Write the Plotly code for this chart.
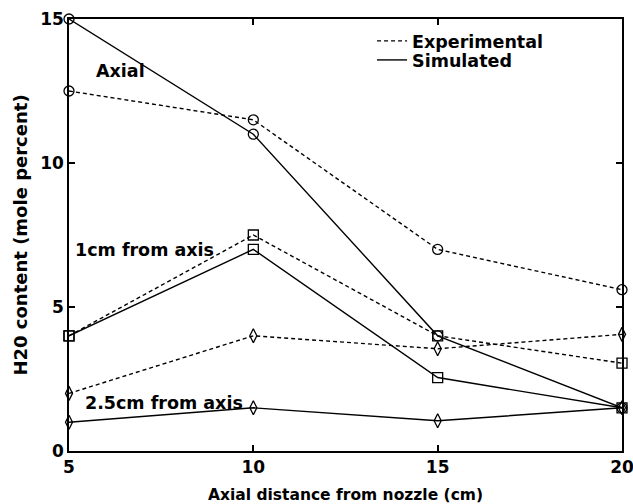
import plotly.graph_objects as go

# Axial positions (cm) and H2O content (mole percent)
distance = [5, 10, 15, 20]

axial_exp = [12.5, 11.5, 7.0, 5.6]
axial_sim = [15.0, 11.0, 4.0, 1.5]
r1cm_exp = [4.0, 7.5, 4.0, 3.05]
r1cm_sim = [4.0, 7.0, 2.55, 1.5]
r25cm_exp = [2.0, 4.0, 3.55, 4.05]
r25cm_sim = [1.0, 1.5, 1.05, 1.5]

x_ticks = [5, 10, 15, 20]
y_ticks = [0, 5, 10, 15]

FONT = "DejaVu Sans"
DASH = "4px,3px"

series = [
    (axial_exp, "circle-open", DASH),
    (axial_sim, "circle-open", "solid"),
    (r1cm_exp, "square-open", DASH),
    (r1cm_sim, "square-open", "solid"),
    (r25cm_exp, "diamond-tall-open", DASH),
    (r25cm_sim, "diamond-tall-open", "solid"),
]

fig = go.Figure()
for values, symbol, dash in series:
    fig.add_trace(go.Scatter(
        x=distance, y=values, mode="lines+markers",
        line=dict(color="black", width=1.4, dash=dash),
        marker=dict(symbol=symbol, size=10, color="black",
                    line=dict(width=1.3, color="black")),
        showlegend=False, cliponaxis=False,
    ))

# Legend entries (line style only), one legend box per row
for name, dash, leg in [("Experimental", DASH, "legend"), ("Simulated", "solid", "legend2")]:
    fig.add_trace(go.Scatter(
        x=[None], y=[None], mode="lines", name=f"<b>{name}</b>",
        line=dict(color="black", width=1.4, dash=dash), legend=leg,
    ))

labels = [
    ("Axial", 5.69, 13.2),
    ("1cm from axis", 5.1, 6.98),
    ("2.5cm from axis", 5.37, 1.67),
]
for text, lx, ly in labels:
    fig.add_annotation(x=lx, y=ly, text=f"<b>{text}</b>", showarrow=False,
                       xanchor="left", yanchor="middle",
                       font=dict(family=FONT, size=17.5, color="black"))

axis_common = dict(
    showline=True, linecolor="black", linewidth=1.5, mirror="ticks",
    ticks="inside", ticklen=6, tickwidth=1.5, tickcolor="black",
    showgrid=False, zeroline=False, automargin=False,
    ticklabeloverflow="allow",
    tickfont=dict(family=FONT, size=17, color="black"),
)

legend_common = dict(
    xanchor="left", yanchor="middle", bgcolor="rgba(0,0,0,0)",
    font=dict(family=FONT, size=17.5, color="black"),
)

fig.update_layout(
    width=633, height=504,
    margin=dict(l=69, r=11, t=19, b=53),
    paper_bgcolor="white", plot_bgcolor="white",
    font=dict(family=FONT, color="black"),
    xaxis=dict(range=[5, 20], tickvals=x_ticks, ticktext=[f"<b>{v}</b>" for v in x_ticks],
               title=dict(text="<b>Axial distance from nozzle (cm)</b>",
                          font=dict(family=FONT, size=15.5), standoff=15),
               **axis_common),
    yaxis=dict(range=[0, 15], tickvals=y_ticks, ticktext=[f"<b>{v}</b>" for v in y_ticks],
               title=dict(text="<b>H20 content (mole percent)</b>",
                          font=dict(family=FONT, size=18), standoff=8),
               **axis_common),
    legend=dict(x=0.548, y=0.949, **legend_common),
    legend2=dict(x=0.548, y=0.905, **legend_common),
)

fig.write_html("out.html")
